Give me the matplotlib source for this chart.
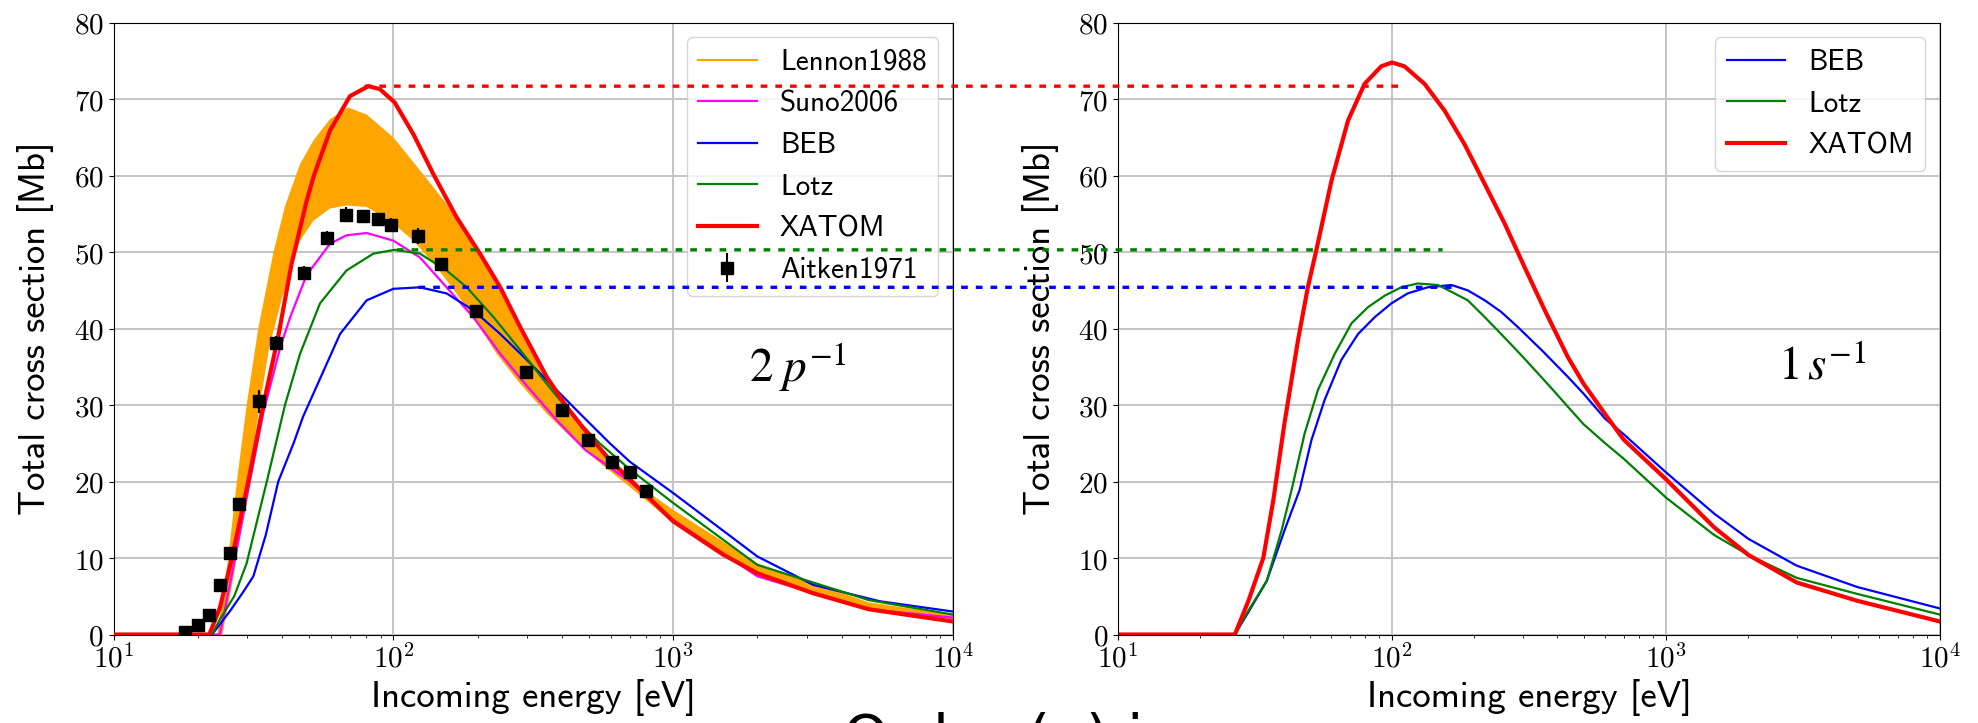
import numpy as np
import matplotlib
matplotlib.use('Agg')
import matplotlib.pyplot as plt
from matplotlib.lines import Line2D
from matplotlib.patches import ConnectionPatch
from matplotlib.ticker import FuncFormatter

plt.rcParams['mathtext.fontset'] = 'cm'

# ---- left panel (2p^-1) ----
E_len_up = [23.5, 25.7, 27.6, 29.9, 32.9, 37.3, 41, 46.4, 51.8, 59.4, 69, 80.3, 100, 124.5, 155, 193,
            228, 268, 316, 373, 464, 594, 700, 1000, 2000, 5000, 10000]
len_up = [0, 10, 20, 30, 40, 50, 56, 61.5, 64.6, 67.4, 68.9, 68.0, 65.0, 60.7, 56.3, 51.1,
          47.2, 42.0, 36.7, 32.0, 27.2, 22.8, 20.3, 16.3, 9.3, 4.2, 2.6]
E_len_lo = [24.5, 27, 30, 33, 36, 40, 46.4, 51.8, 59.4, 68, 80.3, 97.3, 118, 143, 168, 193, 234,
            284, 353, 428, 532, 700, 1000, 2000, 5000, 10000]
len_lo = [0, 8, 19, 29, 37.5, 44, 51.5, 54.1, 55.7, 56.1, 55.9, 54.1, 51.5, 48.0, 44.6, 41.5, 36.7,
          32.8, 28.9, 25.9, 22.8, 19.3, 14.6, 7.9, 3.4, 2.0]

E_suno = [10, 24, 27.2, 30.7, 34.3, 39.4, 42.8, 49, 59.4, 68, 80.3, 100, 124.5, 155, 193, 241,
          300, 384, 486, 700, 1000, 2000, 5000, 10000]
suno = [0, 0, 10, 20, 29, 37.5, 41.5, 47, 51.1, 52.2, 52.5, 51.5, 49.3, 45.4, 41.5, 36.7,
        32.5, 28, 24.1, 20, 15.0, 7.6, 3.3, 2.2]

E_beb = [10, 22.5, 26, 29, 31.6, 35, 38.8, 44, 47.6, 51.8, 64.5, 80.3, 100, 124.5, 155, 193, 241,
         300, 373, 464, 594, 700, 1000, 2000, 3162, 5470, 10000]
beb = [0, 0, 3, 5.5, 7.6, 13, 20, 25, 28.5, 31.5, 39.3, 43.7, 45.2, 45.4, 44.6, 42.4, 39.3,
       35.9, 32.4, 28.9, 25, 22.6, 18.5, 10.2, 6.5, 4.35, 3.0]

E_lotz = [10, 22.5, 24, 27, 29.9, 35.3, 41, 46.4, 54.7, 68, 84.8, 101, 124.5, 155, 183, 228, 284,
          353, 440, 546, 700, 1000, 2000, 5000, 10000]
lotz = [0, 0, 2, 5, 9.3, 20, 30, 36.7, 43.3, 47.6, 49.8, 50.3, 49.8, 47.6, 45.4, 41.5, 37.2,
        32.8, 28.5, 25.0, 21.6, 17.2, 9.1, 4.5, 2.6]

E_xat = [10, 22, 24, 26.5, 30.3, 34.3, 38.8, 43.3, 49, 52, 59.4, 70, 81.5, 89.6, 101, 118, 139,
         168, 204, 241, 284, 353, 416, 504, 594, 700, 1000, 1500, 2000, 3162, 5000, 10000]
xat = [0, 0, 3.5, 10, 20, 30, 39, 48.5, 56.7, 60, 65.9, 70.4, 71.7, 71.3, 69.6, 65.4, 60.2,
       54.6, 49.8, 45.4, 40.2, 33.7, 29.8, 25.9, 22.8, 20.3, 14.8, 10.5, 8.0, 5.4, 3.3, 1.7]

E_ait = [18, 20, 22, 24, 26, 28, 33, 38, 48, 58, 68, 78, 88, 98, 123, 148, 198, 298, 400, 498,
         603, 701, 798]
ait = [0.3, 1.3, 2.5, 6.5, 10.7, 17.1, 30.5, 38.1, 47.3, 51.8, 54.9, 54.7, 54.3, 53.6, 52.1,
       48.4, 42.3, 34.3, 29.3, 25.4, 22.5, 21.2, 18.8]
ait_err = [0.3, 0.4, 0.5, 0.6, 0.7, 0.8, 1.5, 0.9, 0.9, 0.9, 1.0, 0.8, 0.8, 0.8, 1.0, 0.8, 0.7,
           0.6, 0.5, 0.5, 0.5, 0.5, 0.4]

# ---- right panel (1s^-1) ----
E_xat2 = [10, 26.7, 30, 33.9, 36.9, 40.5, 45.4, 49.3, 52.9, 60.1, 69.1, 79.4, 91.4, 100, 111,
          131.5, 155.6, 184, 218, 258, 305, 361, 438, 500, 600, 700, 1000, 1500, 2000, 3000,
          5000, 10000]
xat2 = [0, 0, 4.5, 10, 17.6, 27.6, 38.5, 45.4, 50.2, 59.3, 67.2, 72, 74.3, 74.8, 74.3,
        72, 68.5, 64.1, 58.9, 53.7, 48, 42.4, 36.3, 32.8, 28.8, 25.5, 20.3, 14, 10.4, 6.8,
        4.4, 1.7]
E_beb2 = [10, 26.7, 30, 34.9, 40.6, 46, 50.8, 56.8, 65.3, 75.2, 86.5, 99.5, 114, 135, 165, 189,
          218, 250, 288, 356, 438, 500, 600, 700, 1000, 1500, 2000, 3000, 5000, 10000]
beb2 = [0, 0, 3, 7.0, 13.7, 18.9, 25.4, 30.7, 35.9, 39.3, 41.5, 43.3, 44.6, 45.4, 45.7, 45,
        43.7, 42.2, 40.2, 37, 33.7, 31.5, 28.2, 26.2, 21.2, 15.8, 12.5, 9.0, 6.2, 3.4]
E_lotz2 = [10, 26.7, 30, 34.9, 39.6, 43, 48, 53.7, 61.8, 71.2, 81.7, 94, 108, 124, 147, 165, 189,
           218, 250, 288, 332, 382, 438, 500, 600, 700, 1000, 1500, 2000, 3000, 5000, 10000]
lotz2 = [0, 0, 3.2, 7.0, 13.7, 18.9, 26.3, 32, 36.7, 40.7, 42.8, 44.3, 45.4, 45.9, 45.7, 44.8,
         43.7, 41.5, 39.3, 37, 34.6, 32.2, 29.8, 27.5, 25, 23, 17.9, 13, 10.4, 7.4, 5.3, 2.6]

# peak guide lines: (value, E start in left panel, E end in right panel, colour)
guides = [(71.7, 79, 106, 'red'), (50.3, 103, 153, 'green'), (45.4, 123, 165, 'blue')]

W, H = 1978, 723
fig = plt.figure(figsize=(W / 100, H / 100), dpi=100)
ax1 = fig.add_axes([113.5 / W, 1 - 634.5 / H, (953 - 113.5) / W, (634.5 - 22.7) / H])
ax2 = fig.add_axes([1118 / W, 1 - 634.5 / H, (1940 - 1118) / W, (634.5 - 22.7) / H])

tick_fmt_x = FuncFormatter(lambda v, p: r'$10^{%d}$' % round(np.log10(v)))
tick_fmt_y = FuncFormatter(lambda v, p: r'$%d$' % round(v))

for ax in (ax1, ax2):
    ax.set_xscale('log')
    ax.set_xlim(10, 1e4)
    ax.set_ylim(0, 80)
    ax.set_yticks(np.arange(0, 81, 10))
    ax.xaxis.set_major_formatter(tick_fmt_x)
    ax.yaxis.set_major_formatter(tick_fmt_y)
    ax.tick_params(labelsize=21)
    ax.grid(True, which='major', color='#c4c4c4', lw=1.4)
    ax.set_axisbelow(True)
    ax.set_xlabel('Incoming energy [eV]', fontfamily='cmss10', fontsize=26.5, labelpad=4)
    ax.set_ylabel('Total cross section [Mb]', fontfamily='cmss10', fontsize=26.5, labelpad=14)

ax1.fill(E_len_up + E_len_lo[::-1], len_up + len_lo[::-1], color='orange', lw=0, zorder=1)
ax1.plot(E_suno, suno, color='magenta', lw=1.6, zorder=2)
ax1.plot(E_beb, beb, color='blue', lw=1.6, zorder=2)
ax1.plot(E_lotz, lotz, color='green', lw=1.6, zorder=2)
ax1.plot(E_xat, xat, color='red', lw=3, zorder=3)
eb = ax1.errorbar(E_ait, ait, yerr=ait_err, fmt='s', color='black', ms=8, elinewidth=1.5,
                  capsize=0, zorder=5)

handles1 = [Line2D([], [], color='orange', lw=1.6), Line2D([], [], color='magenta', lw=1.6),
            Line2D([], [], color='blue', lw=1.6), Line2D([], [], color='green', lw=1.6),
            Line2D([], [], color='red', lw=3), eb]
labels1 = ['Lennon1988', 'Suno2006', 'BEB', 'Lotz', 'XATOM', 'Aitken1971']
ax1.legend(handles1, labels1, loc='upper right', prop={'family': 'cmss10', 'size': 21},
           handlelength=2.0)
ax1.text(2800, 35, r'$2\;p^{-1}$', fontsize=34, math_fontfamily='stix', ha='center', va='center')

ax2.plot(E_beb2, beb2, color='blue', lw=1.6, label='BEB')
ax2.plot(E_lotz2, lotz2, color='green', lw=1.6, label='Lotz')
ax2.plot(E_xat2, xat2, color='red', lw=3, label='XATOM')
ax2.legend(loc='upper right', prop={'family': 'cmss10', 'size': 21}, handlelength=2.0)
ax2.text(3700, 35, r'$1\,s^{-1}$', fontsize=34, math_fontfamily='stix', ha='center', va='center')

for val, e_a, e_b, col in guides:
    con = ConnectionPatch(xyA=(e_a, val), coordsA=ax1.transData, xyB=(e_b, val),
                          coordsB=ax2.transData, color=col, lw=2.4, linestyle=(0, (2.0, 2.4)),
                          capstyle='butt')
    fig.add_artist(con)

fig.text(843 / W, 1 - 712 / H, 'Order (a) in', fontsize=42, va='top', ha='left')

fig.savefig('out.png', dpi=100)
